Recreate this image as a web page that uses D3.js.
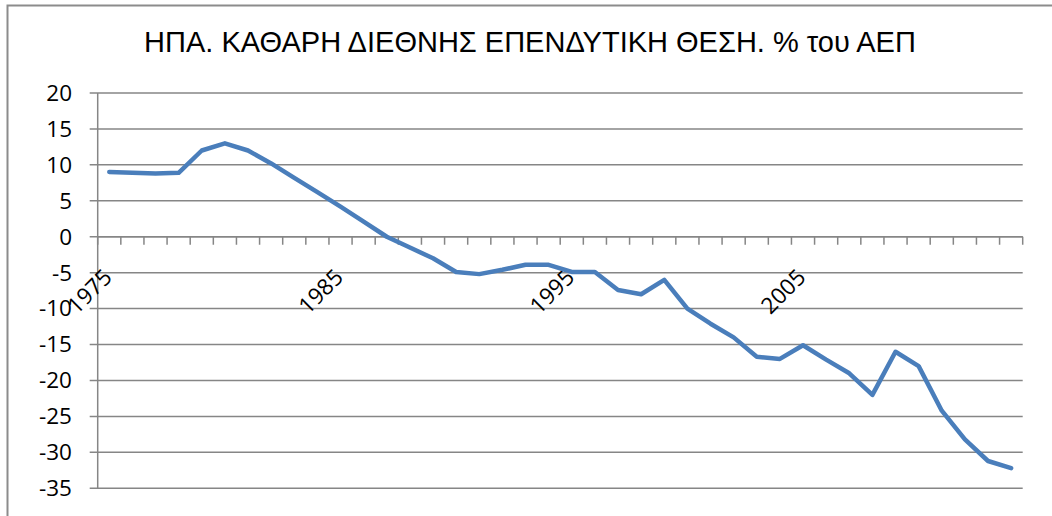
<!DOCTYPE html>
<html>
<head>
<meta charset="utf-8">
<script src="https://cdn.jsdelivr.net/npm/d3@7/dist/d3.min.js"></script>
<style>
  html, body { margin: 0; padding: 0; background: #fff; }
  svg { display: block; }
</style>
</head>
<body>
<svg id="chart" width="1052" height="516"></svg>
<script>
const title = "ΗΠΑ. ΚΑΘΑΡΗ ΔΙΕΘΝΗΣ ΕΠΕΝΔΥΤΙΚΗ ΘΕΣΗ. % του ΑΕΠ";
const years = d3.range(1975, 2015);
const values = [
  9.0, 8.9, 8.8, 8.9, 12.0, 13.0, 12.0, 10.2, 8.2, 6.2,
  4.2, 2.1, 0.0, -1.5, -3.0, -4.9, -5.2, -4.6, -3.9, -3.9,
  -4.9, -4.9, -7.4, -8.0, -6.0, -10.0, -12.1, -14.0, -16.7, -17.0,
  -15.1, -17.1, -19.0, -22.0, -16.0, -18.0, -24.2, -28.2, -31.2, -32.2
];
const yTicks = [20, 15, 10, 5, 0, -5, -10, -15, -20, -25, -30, -35];
const xLabels = [1975, 1985, 1995, 2005];

const svg = d3.select("#chart");
const gridColor = "#868686";

// outer chart border
svg.append("rect")
  .attr("x", 7.5).attr("y", 5.5)
  .attr("width", 1100).attr("height", 600)
  .attr("fill", "none").attr("stroke", "#8c8c8c").attr("stroke-width", 2);

const x = d3.scaleBand().domain(years).range([97.7, 1022.7]).padding(0);
const y = d3.scaleLinear().domain([-35, 20]).range([488.3, 93]);

// title
svg.append("text")
  .attr("x", 530).attr("y", 52)
  .attr("text-anchor", "middle")
  .attr("font-family", "'Liberation Sans', Arial, sans-serif")
  .attr("font-size", 29)
  .attr("fill", "#000")
  .text(title);

// horizontal gridlines (extend left as outer ticks)
svg.append("g").selectAll("line").data(yTicks).join("line")
  .attr("x1", 89.7).attr("x2", 1022.7)
  .attr("y1", d => y(d)).attr("y2", d => y(d))
  .attr("stroke", gridColor).attr("stroke-width", 1.5);

// y axis line
svg.append("line")
  .attr("x1", 97.7).attr("x2", 97.7)
  .attr("y1", y(20)).attr("y2", y(-35))
  .attr("stroke", gridColor).attr("stroke-width", 1.5);

// y labels
svg.append("g").selectAll("text").data(yTicks).join("text")
  .attr("x", 72).attr("y", d => y(d))
  .attr("dy", "0.35em")
  .attr("text-anchor", "end")
  .attr("font-family", "'Open Sans', sans-serif")
  .attr("font-size", 22.5)
  .attr("fill", "#000")
  .text(d => d);

// x axis at 0
const x0 = y(0);
svg.append("line")
  .attr("x1", 97.7).attr("x2", 1022.7)
  .attr("y1", x0).attr("y2", x0)
  .attr("stroke", gridColor).attr("stroke-width", 1.5);
const boundaries = years.map(d => x(d)).concat([x(years[years.length - 1]) + x.bandwidth()]);
svg.append("g").selectAll("line").data(boundaries).join("line")
  .attr("x1", d => d).attr("x2", d => d)
  .attr("y1", x0).attr("y2", x0 + 8)
  .attr("stroke", gridColor).attr("stroke-width", 1.5);

// x labels
svg.append("g").selectAll("text").data(xLabels).join("text")
  .attr("transform", d => `translate(${x(d) + x.bandwidth() / 2 + 4},${x0 + 42}) rotate(-45)`)
  .attr("text-anchor", "end")
  .attr("font-family", "'Open Sans', sans-serif")
  .attr("font-size", 22.5)
  .attr("fill", "#000")
  .text(d => d);

// data line
const line = d3.line()
  .x((d, i) => x(years[i]) + x.bandwidth() / 2)
  .y(d => y(d));
svg.append("path")
  .datum(values)
  .attr("d", line)
  .attr("fill", "none")
  .attr("stroke", "#4a7ebb")
  .attr("stroke-width", 4.5)
  .attr("stroke-linejoin", "round")
  .attr("stroke-linecap", "round");
</script>
</body>
</html>
